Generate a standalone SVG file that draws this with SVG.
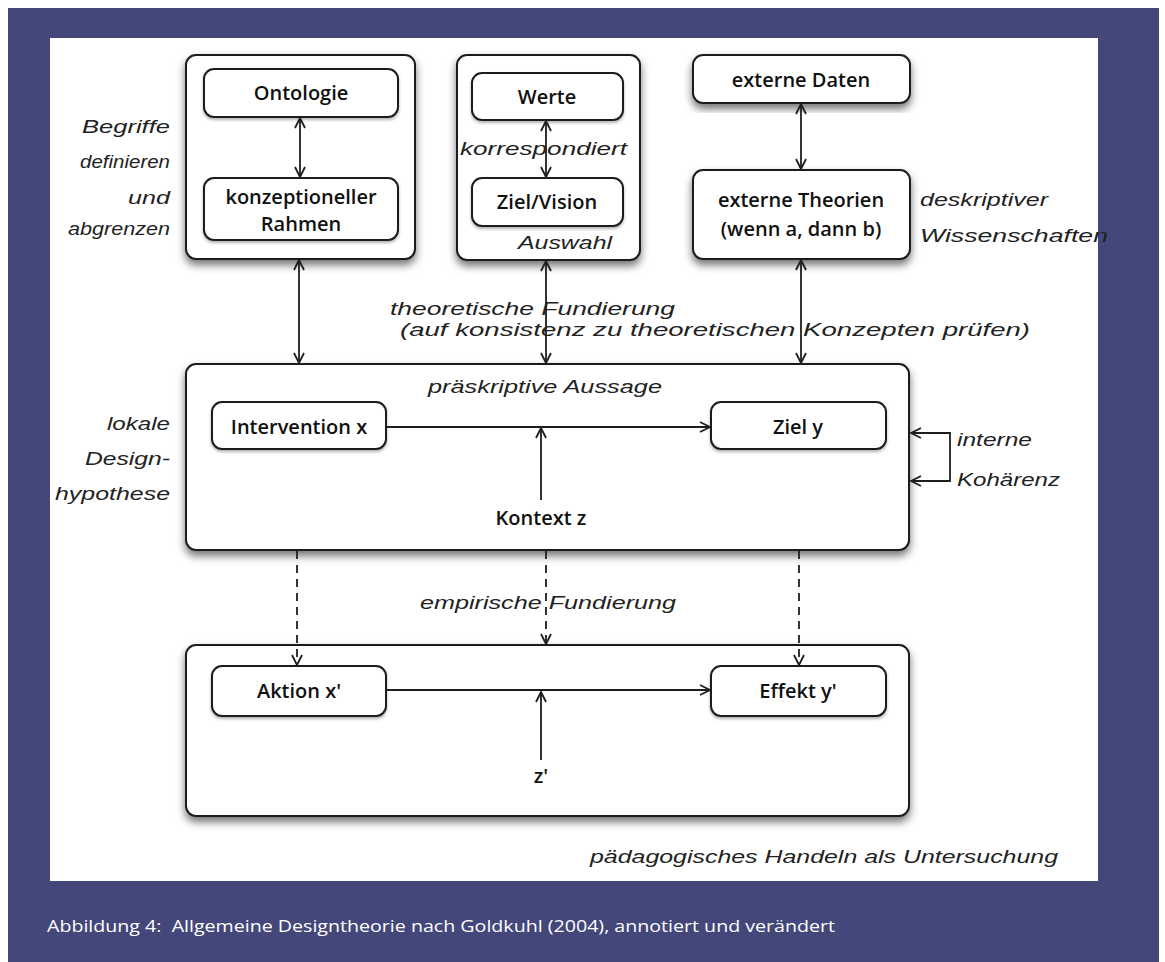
<svg xmlns="http://www.w3.org/2000/svg" width="1165" height="962" viewBox="0 0 1165 962">
<style>
.box{fill:#fff;stroke:#1e1e1e;stroke-width:2}
.lbl{font-family:"Open Sans","Liberation Sans",sans-serif;font-size:20px;font-weight:600;fill:#111;text-anchor:middle}
.hw{font-family:"Liberation Sans",Arial,sans-serif;font-style:italic;font-weight:normal;font-size:18px;fill:#222}
.r{text-anchor:end}
.ln{stroke:#1e1e1e;stroke-width:1.8;fill:none}
.dash{stroke-dasharray:8 6}
.cap{font-family:"Open Sans","Liberation Sans",sans-serif;font-size:16px;fill:#fff}
</style>
<defs>
<filter id="sh" x="-10%" y="-10%" width="120%" height="130%">
<feDropShadow dx="0" dy="5" stdDeviation="4" flood-color="#000" flood-opacity="0.55"/>
</filter>
<filter id="sh2" x="-10%" y="-10%" width="120%" height="140%">
<feDropShadow dx="0" dy="2" stdDeviation="1.5" flood-color="#000" flood-opacity="0.3"/>
</filter>
<marker id="ah" viewBox="0 0 12 12" refX="11" refY="6" markerWidth="12" markerHeight="12" markerUnits="userSpaceOnUse" orient="auto-start-reverse">
<path d="M1,1 L11,6 L1,11" fill="none" stroke="#1e1e1e" stroke-width="1.8"/>
</marker>
</defs>
<rect x="0" y="0" width="1165" height="962" fill="#fff"/>
<rect x="8" y="8" width="1151" height="954" fill="#43477a"/>
<rect x="50" y="38" width="1048" height="843" fill="#fff"/>

<g id="box-konzept">
<rect class="box" x="186" y="55" width="229" height="204" rx="10" filter="url(#sh)"/>
</g>
<g id="box-werte-ziel">
<rect class="box" x="457" y="55" width="183" height="205" rx="10" filter="url(#sh)"/>
</g>
<g id="node-ontologie">
<rect class="box" x="204" y="69" width="194" height="48" rx="10" filter="url(#sh2)"/>
<text class="lbl" x="301" y="100">Ontologie</text>
</g>
<g id="node-rahmen">
<rect class="box" x="204" y="178" width="194" height="62" rx="10" filter="url(#sh2)"/>
<text class="lbl" x="301" y="204">konzeptioneller</text>
<text class="lbl" x="301" y="231">Rahmen</text>
</g>
<g id="node-werte">
<rect class="box" x="472" y="73" width="151" height="47" rx="10" filter="url(#sh2)"/>
<text class="lbl" x="547" y="104">Werte</text>
</g>
<g id="node-zielvision">
<rect class="box" x="472" y="178" width="151" height="48" rx="10" filter="url(#sh2)"/>
<text class="lbl" x="547" y="209">Ziel/Vision</text>
</g>
<g id="node-externe-daten">
<rect class="box" x="693" y="55" width="217" height="48" rx="10" filter="url(#sh)"/>
<text class="lbl" x="801" y="87">externe Daten</text>
</g>
<g id="node-externe-theorien">
<rect class="box" x="693" y="170" width="217" height="89" rx="10" filter="url(#sh)"/>
<text class="lbl" x="801" y="207">externe Theorien</text>
<text class="lbl" x="801" y="236">(wenn a, dann b)</text>
</g>
<g id="box-praeskriptiv">
<rect class="box" x="186" y="364" width="723" height="186" rx="10" filter="url(#sh)"/>
</g>
<g id="node-intervention">
<rect class="box" x="212" y="402" width="174" height="47" rx="10" filter="url(#sh2)"/>
<text class="lbl" x="299" y="434">Intervention x</text>
</g>
<g id="node-ziel-y">
<rect class="box" x="711" y="402" width="175" height="47" rx="10" filter="url(#sh2)"/>
<text class="lbl" x="798" y="434">Ziel y</text>
</g>
<g id="node-kontext">
<text class="lbl" x="541" y="525">Kontext z</text>
</g>
<g id="box-handeln">
<rect class="box" x="186" y="645" width="723" height="171" rx="10" filter="url(#sh)"/>
</g>
<g id="node-aktion">
<rect class="box" x="212" y="666" width="174" height="50" rx="10" filter="url(#sh2)"/>
<text class="lbl" x="299" y="698">Aktion x'</text>
</g>
<g id="node-effekt">
<rect class="box" x="711" y="666" width="175" height="50" rx="10" filter="url(#sh2)"/>
<text class="lbl" x="798" y="698">Effekt y'</text>
</g>
<g id="node-zprime">
<text class="lbl" x="541" y="783">z'</text>
</g>

<g id="connectors">
<line class="ln" x1="300" y1="118" x2="300" y2="177" marker-start="url(#ah)" marker-end="url(#ah)"/>
<line class="ln" x1="299" y1="260" x2="299" y2="363" marker-start="url(#ah)" marker-end="url(#ah)"/>
<line class="ln" x1="546" y1="121" x2="546" y2="177" marker-start="url(#ah)" marker-end="url(#ah)"/>
<line class="ln" x1="546" y1="261" x2="546" y2="363" marker-start="url(#ah)" marker-end="url(#ah)"/>
<line class="ln" x1="801" y1="104" x2="801" y2="169" marker-start="url(#ah)" marker-end="url(#ah)"/>
<line class="ln" x1="801" y1="260" x2="801" y2="363" marker-start="url(#ah)" marker-end="url(#ah)"/>
<line class="ln" x1="387" y1="427" x2="710" y2="427" marker-end="url(#ah)"/>
<line class="ln" x1="541" y1="500" x2="541" y2="428" marker-end="url(#ah)"/>
<path class="ln" d="M911,433 L950,433 L950,481 L911,481" marker-start="url(#ah)" marker-end="url(#ah)"/>
<line class="ln dash" x1="297" y1="551" x2="297" y2="665" marker-end="url(#ah)"/>
<line class="ln dash" x1="546" y1="551" x2="546" y2="644" marker-end="url(#ah)"/>
<line class="ln dash" x1="799" y1="551" x2="799" y2="665" marker-end="url(#ah)"/>
<line class="ln" x1="387" y1="690" x2="710" y2="690" marker-end="url(#ah)"/>
<line class="ln" x1="541" y1="760" x2="541" y2="692" marker-end="url(#ah)"/>
</g>

<g id="annotations">
<text class="hw r" x="170" y="133" textLength="88" lengthAdjust="spacingAndGlyphs">Begriffe</text>
<text class="hw r" x="170" y="168" textLength="90" lengthAdjust="spacingAndGlyphs">definieren</text>
<text class="hw r" x="170" y="204" textLength="42" lengthAdjust="spacingAndGlyphs">und</text>
<text class="hw r" x="170" y="235" textLength="102" lengthAdjust="spacingAndGlyphs">abgrenzen</text>
<text class="hw" x="460" y="155" textLength="167" lengthAdjust="spacingAndGlyphs">korrespondiert</text>
<text class="hw" x="518" y="249" textLength="94" lengthAdjust="spacingAndGlyphs">Auswahl</text>
<text class="hw" x="920" y="206" textLength="128" lengthAdjust="spacingAndGlyphs">deskriptiver</text>
<text class="hw" x="920" y="242" textLength="188" lengthAdjust="spacingAndGlyphs">Wissenschaften</text>
<text class="hw" x="390" y="315" textLength="285" lengthAdjust="spacingAndGlyphs">theoretische Fundierung</text>
<text class="hw" x="400" y="336" textLength="630" lengthAdjust="spacingAndGlyphs">(auf konsistenz zu theoretischen Konzepten prüfen)</text>
<text class="hw" x="428" y="393" textLength="234" lengthAdjust="spacingAndGlyphs">präskriptive Aussage</text>
<text class="hw r" x="170" y="430" textLength="63" lengthAdjust="spacingAndGlyphs">lokale</text>
<text class="hw r" x="170" y="465" textLength="85" lengthAdjust="spacingAndGlyphs">Design-</text>
<text class="hw r" x="170" y="500" textLength="115" lengthAdjust="spacingAndGlyphs">hypothese</text>
<text class="hw" x="957" y="446" textLength="75" lengthAdjust="spacingAndGlyphs">interne</text>
<text class="hw" x="957" y="486" textLength="103" lengthAdjust="spacingAndGlyphs">Kohärenz</text>
<text class="hw" x="420" y="609" textLength="256" lengthAdjust="spacingAndGlyphs">empirische Fundierung</text>
<text class="hw" x="590" y="863" textLength="468" lengthAdjust="spacingAndGlyphs">pädagogisches Handeln als Untersuchung</text>
</g>
<text class="cap" x="47" y="932" textLength="788" lengthAdjust="spacingAndGlyphs">Abbildung 4:&#160; Allgemeine Designtheorie nach Goldkuhl (2004), annotiert und verändert</text>
</svg>
